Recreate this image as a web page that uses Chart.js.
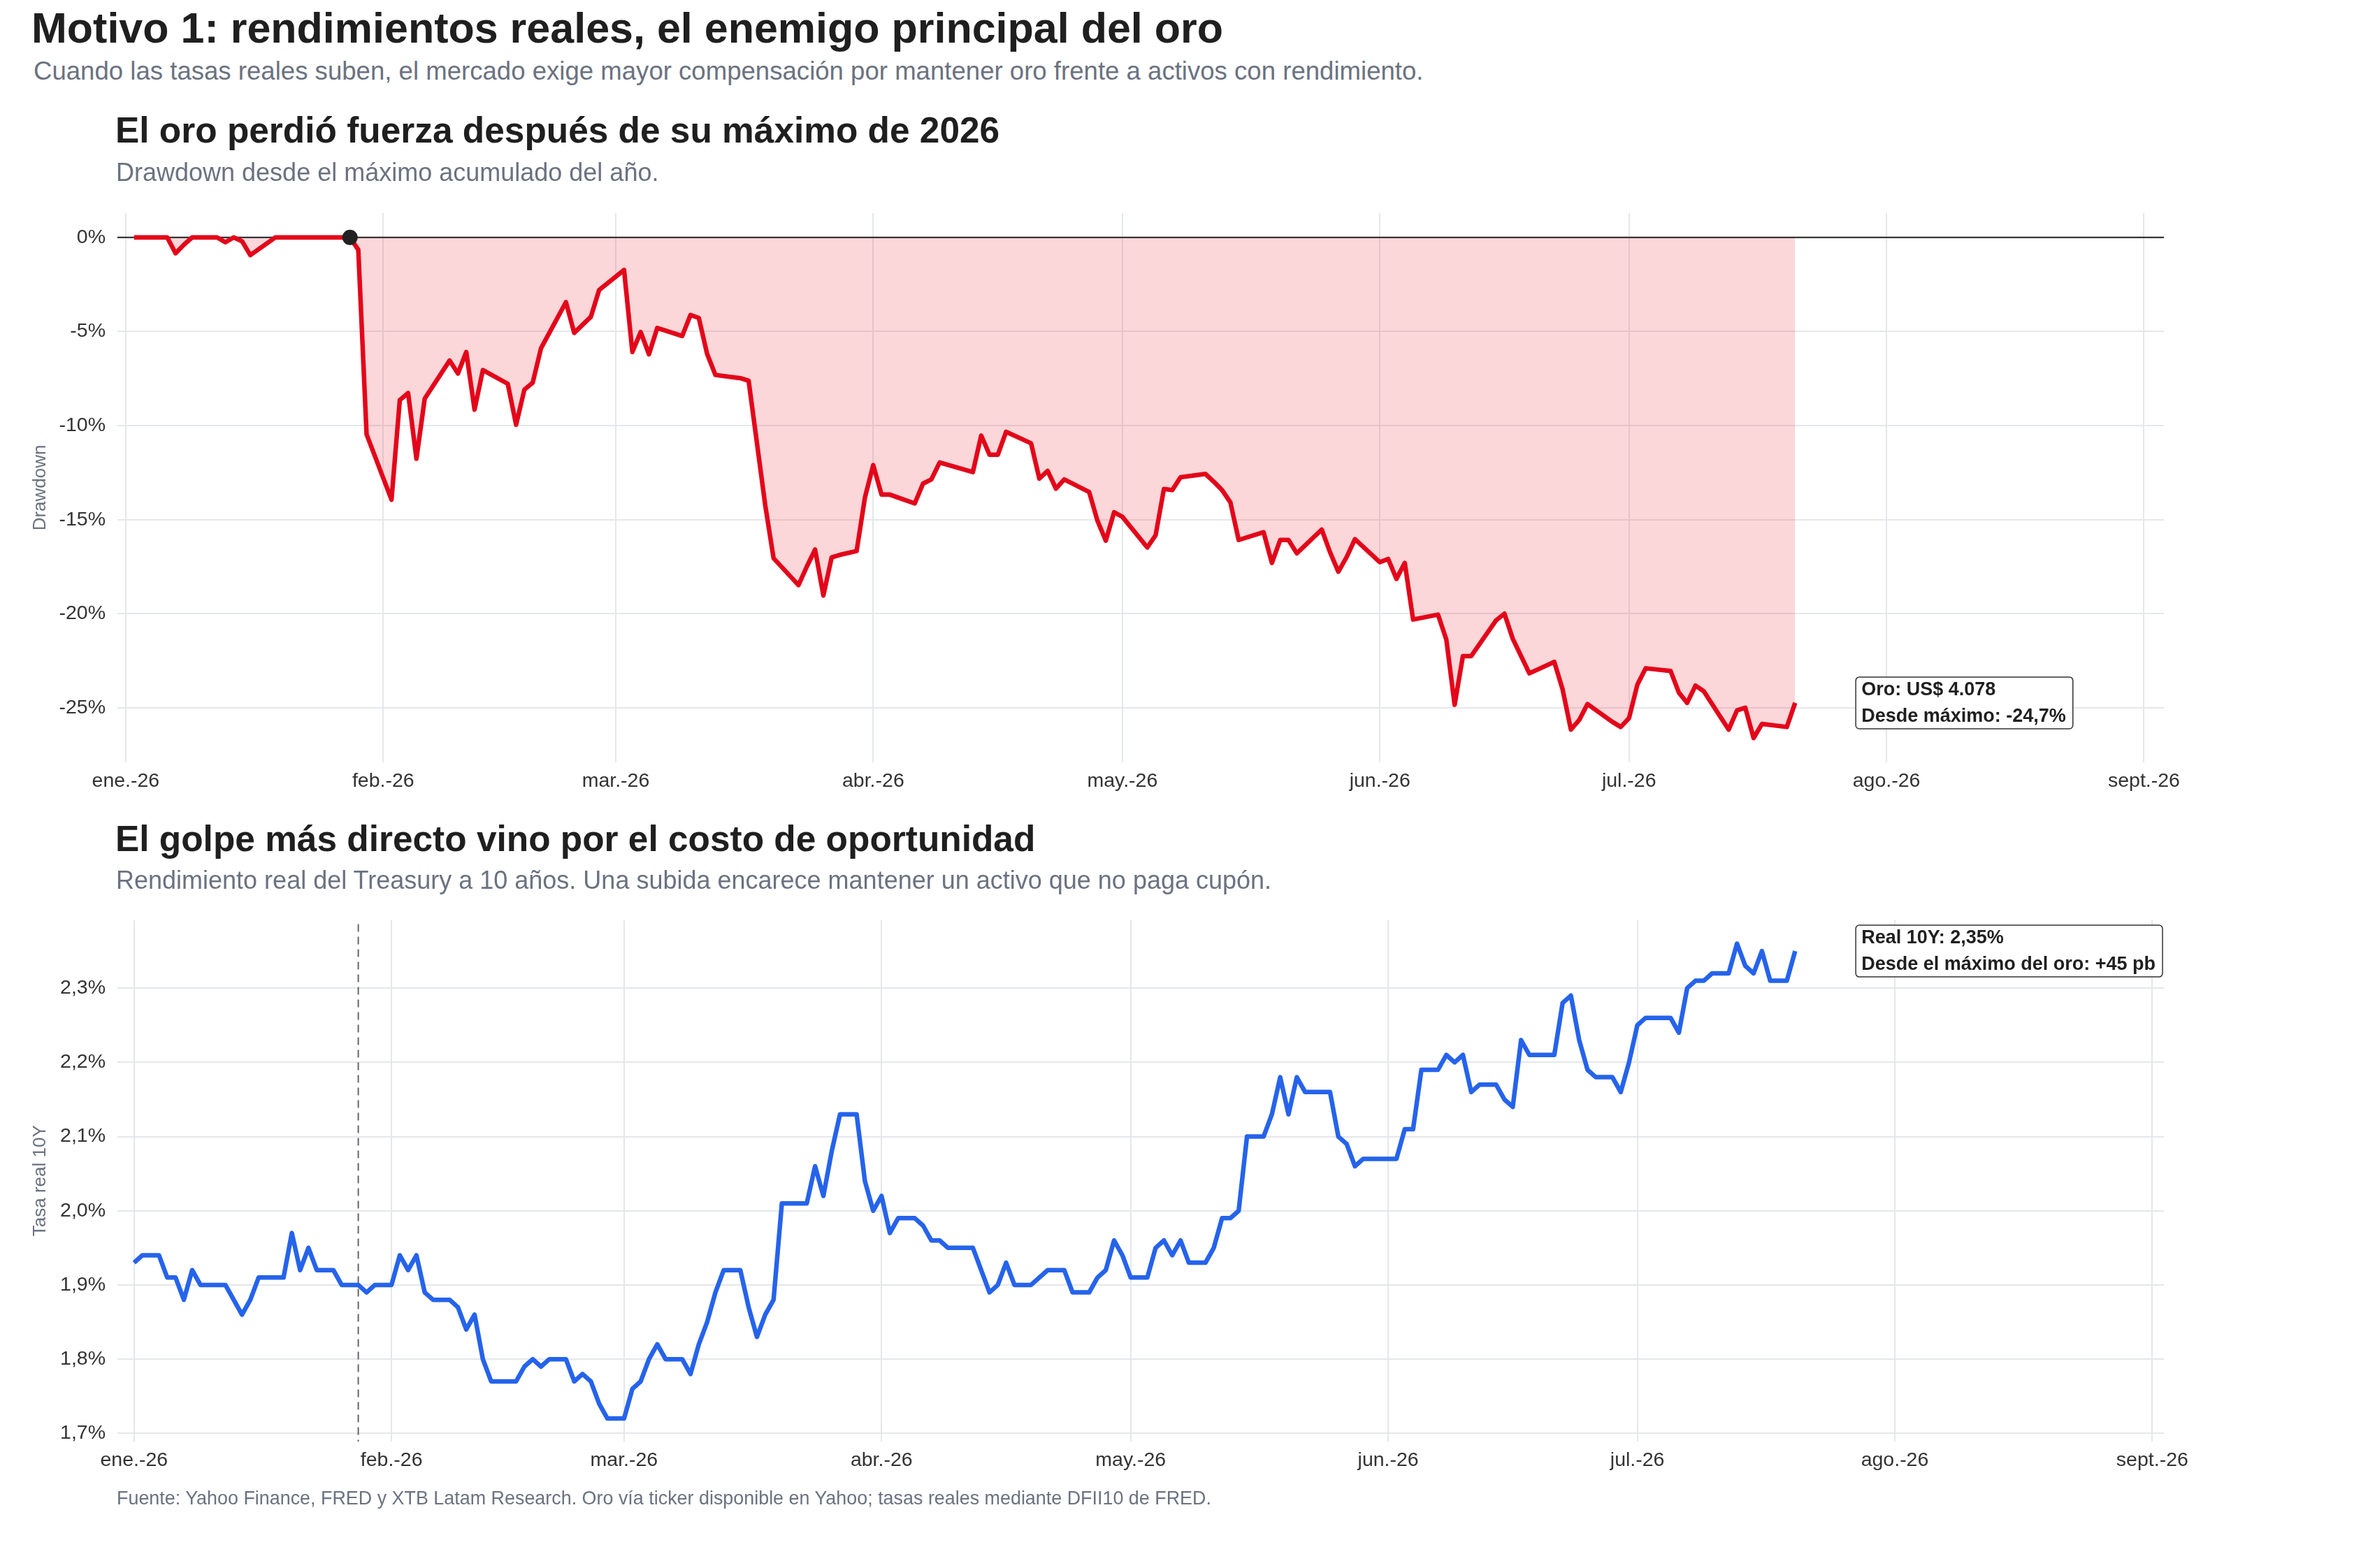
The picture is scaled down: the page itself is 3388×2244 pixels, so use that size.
<!DOCTYPE html>
<html lang="es">
<head>
<meta charset="utf-8">
<title>Motivo 1: rendimientos reales, el enemigo principal del oro</title>
<script src="https://cdn.jsdelivr.net/npm/chart.js@4/dist/chart.umd.min.js"></script>
<style>
  html, body { margin: 0; padding: 0; background: #fff; }
  body { width: 3388px; height: 2244px; position: relative; overflow: hidden; font-family: 'Liberation Sans', Arial, sans-serif; }
  .txt { position: absolute; white-space: nowrap; line-height: 1; z-index: 2; }
  .main-title { left: 45px; top: 10px; font-size: 61px; font-weight: bold; color: #1f1f1f; }
  .main-sub { left: 48px; top: 84px; font-size: 36.6px; color: #6b7280; }
  .panel-title { left: 165px; font-size: 51.4px; font-weight: bold; color: #1f1f1f; }
  .panel-sub { left: 166px; font-size: 36px; color: #6b7280; }
  .footer { left: 167px; top: 2131px; font-size: 26.9px; color: #6b7280; }
  canvas { position: absolute; left: 0; }
</style>
</head>
<body>
<div class="txt main-title">Motivo 1: rendimientos reales, el enemigo principal del oro</div>
<div class="txt main-sub">Cuando las tasas reales suben, el mercado exige mayor compensación por mantener oro frente a activos con rendimiento.</div>

<div class="txt panel-title" style="top: 161px;">El oro perdió fuerza después de su máximo de 2026</div>
<div class="txt panel-sub" style="top: 229px;">Drawdown desde el máximo acumulado del año.</div>
<canvas id="goldChart" width="3388" height="900" style="top: 260px;"></canvas>

<div class="txt panel-title" style="top: 1175px;">El golpe más directo vino por el costo de oportunidad</div>
<div class="txt panel-sub" style="top: 1242px;">Rendimiento real del Treasury a 10 años. Una subida encarece mantener un activo que no paga cupón.</div>
<canvas id="realChart" width="3388" height="860" style="top: 1270px;"></canvas>

<div class="txt footer">Fuente: Yahoo Finance, FRED y XTB Latam Research. Oro vía ticker disponible en Yahoo; tasas reales mediante DFII10 de FRED.</div>

<script>
// eje x: días desde el 1 de enero de 2026
var monthTicks = [0, 31, 59, 90, 120, 151, 181, 212, 243];
var monthLabels = ['ene.-26', 'feb.-26', 'mar.-26', 'abr.-26', 'may.-26', 'jun.-26', 'jul.-26', 'ago.-26', 'sept.-26'];

// oro: drawdown (%) desde el máximo acumulado
var goldDays = [1, 5, 6, 7, 8, 11, 12, 13, 14, 15, 18, 27, 28, 29, 32, 33, 34, 35, 36, 39,
  40, 41, 42, 43, 46, 47, 48, 49, 50, 53, 54, 56, 57, 60, 61, 62, 63, 64, 67, 68,
  69, 70, 71, 74, 75, 77, 78, 81, 82, 83, 84, 85, 86, 88, 89, 90, 91, 92, 93, 95,
  96, 97, 98, 102, 103, 104, 105, 106, 109, 110, 111, 112, 113, 116, 117, 118, 119, 120, 123, 124,
  125, 126, 127, 130, 131, 132, 133, 134, 137, 138, 139, 140, 141, 144, 145, 146, 147, 148, 151, 152,
  153, 154, 155, 158, 159, 160, 161, 162, 165, 166, 167, 169, 172, 173, 174, 175, 176, 179, 180, 181,
  182, 183, 186, 187, 188, 189, 190, 193, 194, 195, 196, 197, 200, 201];
var goldDrawdown = [0, 0, -0.84, -0.39, 0, 0, -0.26, 0, -0.2, -0.94, 0, 0, -0.65, -10.47, -13.94, -8.64, -8.27, -11.76, -8.57, -6.54,
  -7.23, -6.09, -9.15, -7.05, -7.78, -9.96, -8.09, -7.72, -5.89, -3.44, -5.07, -4.22, -2.79, -1.73, -6.09, -5.03, -6.21, -4.81, -5.24, -4.12,
  -4.28, -6.19, -7.31, -7.48, -7.62, -14.24, -17.05, -18.48, -17.5, -16.59, -19.03, -17.0, -16.87, -16.67, -13.83, -12.1, -13.67, -13.67, -13.83, -14.14,
  -13.08, -12.86, -11.96, -12.47, -10.53, -11.55, -11.55, -10.33, -10.94, -12.82, -12.41, -13.35, -12.86, -13.53, -15.06, -16.12, -14.61, -14.85, -16.48, -15.83,
  -13.37, -13.43, -12.75, -12.57, -12.98, -13.43, -14.08, -16.08, -15.67, -17.3, -16.08, -16.08, -16.79, -15.53, -16.73, -17.77, -16.99, -16.04, -17.26, -17.09,
  -18.15, -17.3, -20.31, -20.05, -21.37, -24.84, -22.25, -22.25, -20.35, -20.0, -21.33, -23.17, -22.56, -24.02, -26.16, -25.65, -24.8, -25.75, -26.02, -25.55,
  -23.78, -22.9, -23.04, -24.19, -24.74, -23.82, -24.12, -26.16, -25.14, -25.0, -26.61, -25.86, -26.02, -24.74];
var goldPeakDay = 27;
var goldLastPrice = 'US$ 4.078';
var drawdownTicks = [0, -5, -10, -15, -20, -25];

// rendimiento real del Treasury a 10 años (%)
var realDays = [0, 1, 3, 4, 5, 6, 7, 8, 11, 13, 14, 15, 18, 19, 20, 21, 22, 24, 25, 27,
  28, 29, 31, 32, 33, 34, 35, 36, 38, 39, 40, 41, 42, 43, 46, 47, 48, 49, 50, 52,
  53, 54, 55, 56, 57, 59, 60, 61, 62, 63, 64, 66, 67, 68, 69, 70, 71, 73, 74, 75,
  76, 77, 78, 81, 82, 83, 84, 85, 87, 88, 89, 90, 91, 92, 94, 95, 96, 97, 98, 101,
  103, 104, 105, 106, 108, 110, 112, 113, 115, 116, 117, 118, 119, 120, 122, 123, 124, 125, 126, 127,
  129, 130, 131, 132, 133, 134, 136, 137, 138, 139, 140, 141, 144, 145, 146, 147, 148, 152, 153, 154,
  155, 157, 158, 159, 160, 161, 162, 164, 165, 166, 167, 168, 171, 172, 173, 174, 175, 176, 178, 179,
  180, 181, 182, 185, 186, 187, 188, 189, 190, 192, 193, 194, 195, 196, 197, 199, 200];
var realYield = [1.93, 1.94, 1.94, 1.91, 1.91, 1.88, 1.92, 1.90, 1.90, 1.86, 1.88, 1.91, 1.91, 1.97, 1.92, 1.95, 1.92, 1.92, 1.90, 1.90,
  1.89, 1.90, 1.90, 1.94, 1.92, 1.94, 1.89, 1.88, 1.88, 1.87, 1.84, 1.86, 1.80, 1.77, 1.77, 1.79, 1.80, 1.79, 1.80, 1.80,
  1.77, 1.78, 1.77, 1.74, 1.72, 1.72, 1.76, 1.77, 1.80, 1.82, 1.80, 1.80, 1.78, 1.82, 1.85, 1.89, 1.92, 1.92, 1.87, 1.83,
  1.86, 1.88, 2.01, 2.01, 2.06, 2.02, 2.08, 2.13, 2.13, 2.04, 2.00, 2.02, 1.97, 1.99, 1.99, 1.98, 1.96, 1.96, 1.95, 1.95,
  1.89, 1.90, 1.93, 1.90, 1.90, 1.92, 1.92, 1.89, 1.89, 1.91, 1.92, 1.96, 1.94, 1.91, 1.91, 1.95, 1.96, 1.94, 1.96, 1.93,
  1.93, 1.95, 1.99, 1.99, 2.00, 2.10, 2.10, 2.13, 2.18, 2.13, 2.18, 2.16, 2.16, 2.10, 2.09, 2.06, 2.07, 2.07, 2.11, 2.11,
  2.19, 2.19, 2.21, 2.20, 2.21, 2.16, 2.17, 2.17, 2.15, 2.14, 2.23, 2.21, 2.21, 2.28, 2.29, 2.23, 2.19, 2.18, 2.18, 2.16,
  2.20, 2.25, 2.26, 2.26, 2.24, 2.30, 2.31, 2.31, 2.32, 2.32, 2.36, 2.33, 2.32, 2.35, 2.31, 2.31, 2.35];
var yieldTicks = [1.7, 1.8, 1.9, 2.0, 2.1, 2.2, 2.3];

var RED = '#e3061a';
var BLUE = '#2563eb';
var GRID = '#e5e7eb';
var TICK_COLOR = '#333333';

Chart.defaults.font.family = "'Liberation Sans', Arial, sans-serif";
Chart.defaults.color = TICK_COLOR;

function toPoints(xs, ys) {
  return xs.map(function (x, i) { return { x: x, y: ys[i] }; });
}

function comma(v, digits) {
  return v.toFixed(digits).replace('.', ',');
}

function fixedTicks(values) {
  return function (scale) {
    scale.ticks = values.map(function (v) { return { value: v }; });
  };
}

function monthAxis(min, max, height) {
  return {
    type: 'linear', min: min, max: max,
    afterBuildTicks: fixedTicks(monthTicks),
    afterFit: function (scale) { scale.height = height; },
    ticks: {
      padding: 10, color: TICK_COLOR, font: { size: 28.5 }, maxRotation: 0, autoSkip: false,
      callback: function (v) { return monthLabels[monthTicks.indexOf(v)]; }
    },
    grid: { color: GRID, lineWidth: 2, drawTicks: false, tickLength: 0 },
    border: { display: false }
  };
}

function valueAxis(min, max, ticks, fmt, title) {
  return {
    min: min, max: max,
    afterBuildTicks: fixedTicks(ticks),
    afterFit: function (scale) { scale.width = 168; },
    ticks: { padding: 17, color: TICK_COLOR, font: { size: 28.5 }, autoSkip: false, callback: fmt },
    grid: { color: GRID, lineWidth: 2, drawTicks: false, tickLength: 0 },
    border: { display: false },
    title: { display: true, text: title, color: '#6b7280', font: { size: 26 }, padding: { top: 42, bottom: 0 } }
  };
}

// línea de cero y línea vertical punteada del máximo del oro
var refLinesPlugin = {
  id: 'refLines',
  beforeDatasetsDraw: function (chart, args, opts) {
    var ctx = chart.ctx, area = chart.chartArea;
    ctx.save();
    if (opts.zeroLine) {
      var y0 = chart.scales.y.getPixelForValue(0);
      ctx.strokeStyle = '#222';
      ctx.lineWidth = 2;
      ctx.beginPath();
      ctx.moveTo(area.left, y0);
      ctx.lineTo(area.right, y0);
      ctx.stroke();
    }
    if (opts.markDay != null) {
      var x0 = chart.scales.x.getPixelForValue(opts.markDay);
      ctx.strokeStyle = '#666';
      ctx.lineWidth = 2;
      ctx.setLineDash([11, 7]);
      ctx.beginPath();
      ctx.moveTo(x0, area.top + 6);
      ctx.lineTo(x0, area.bottom);
      ctx.stroke();
    }
    ctx.restore();
  }
};

// recuadro con el último valor
var lastLabelPlugin = {
  id: 'lastLabel',
  afterDraw: function (chart, args, opts) {
    if (!opts.lines) return;
    var ctx = chart.ctx;
    var left = chart.scales.x.getPixelForValue(opts.day);
    var cy = chart.scales.y.getPixelForValue(opts.value);
    ctx.save();
    ctx.font = 'bold 27px ' + Chart.defaults.font.family;
    var w = 0;
    opts.lines.forEach(function (t) { w = Math.max(w, ctx.measureText(t).width); });
    var boxW = w + 18, boxH = 74, top = cy - boxH / 2;
    ctx.beginPath();
    ctx.roundRect(left, top, boxW, boxH, 5);
    ctx.fillStyle = '#fff';
    ctx.fill();
    ctx.strokeStyle = '#333';
    ctx.lineWidth = 1.5;
    ctx.stroke();
    ctx.fillStyle = '#1f1f1f';
    ctx.textBaseline = 'middle';
    ctx.textAlign = 'left';
    ctx.fillText(opts.lines[0], left + 8, cy - 18.5);
    ctx.fillText(opts.lines[1], left + 8, cy + 19.5);
    ctx.restore();
  }
};

function initGoldChart() {
  var lastDay = goldDays[goldDays.length - 1];
  var lastDd = goldDrawdown[goldDrawdown.length - 1];
  new Chart(document.getElementById('goldChart'), {
    type: 'line',
    data: {
      datasets: [{
        type: 'scatter',
        data: [{ x: goldPeakDay, y: goldDrawdown[goldDays.indexOf(goldPeakDay)] }],
        pointRadius: 11, pointBackgroundColor: '#222', pointBorderWidth: 0
      }, {
        data: toPoints(goldDays, goldDrawdown),
        borderColor: RED, borderWidth: 6.5, borderJoinStyle: 'round',
        backgroundColor: 'rgba(230, 16, 30, 0.17)', fill: 'origin',
        pointRadius: 0, tension: 0
      }]
    },
    options: {
      responsive: false, devicePixelRatio: 1, animation: false,
      layout: { padding: { left: 0, top: 44.8, right: 292, bottom: 0 } },
      scales: {
        x: monthAxis(-1.0, 245.4, 69),
        y: valueAxis(-27.9, 1.3, drawdownTicks, function (v) { return v + '%'; }, 'Drawdown')
      },
      plugins: {
        legend: { display: false },
        tooltip: { enabled: false },
        filler: { drawTime: 'beforeDatasetsDraw' },
        refLines: { zeroLine: true },
        lastLabel: {
          day: lastDay + 7.3, value: lastDd,
          lines: ['Oro: ' + goldLastPrice, 'Desde máximo: ' + comma(lastDd, 1) + '%']
        }
      }
    },
    plugins: [refLinesPlugin, lastLabelPlugin]
  });
}

function initRealChart() {
  var lastDay = realDays[realDays.length - 1];
  var lastY = realYield[realYield.length - 1];
  var atPeak = realYield[realDays.indexOf(goldPeakDay)];
  var bp = Math.round((lastY - atPeak) * 100);
  new Chart(document.getElementById('realChart'), {
    type: 'line',
    data: {
      datasets: [{
        data: toPoints(realDays, realYield),
        borderColor: BLUE, borderWidth: 6.5, borderJoinStyle: 'round',
        fill: false, pointRadius: 0, tension: 0
      }]
    },
    options: {
      responsive: false, devicePixelRatio: 1, animation: false,
      layout: { padding: { left: 0, top: 46.5, right: 292, bottom: 0 } },
      scales: {
        x: monthAxis(-2.0, 244.4, 67),
        y: valueAxis(1.689, 2.392, yieldTicks, function (v) { return comma(v, 1) + '%'; }, 'Tasa real 10Y')
      },
      plugins: {
        legend: { display: false },
        tooltip: { enabled: false },
        refLines: { markDay: goldPeakDay },
        lastLabel: {
          day: lastDay + 7.3, value: lastY,
          lines: ['Real 10Y: ' + comma(lastY, 2) + '%', 'Desde el máximo del oro: ' + (bp >= 0 ? '+' : '') + bp + ' pb']
        }
      }
    },
    plugins: [refLinesPlugin, lastLabelPlugin]
  });
}

document.addEventListener('DOMContentLoaded', function () {
  initGoldChart();
  initRealChart();
});
</script>
</body>
</html>
